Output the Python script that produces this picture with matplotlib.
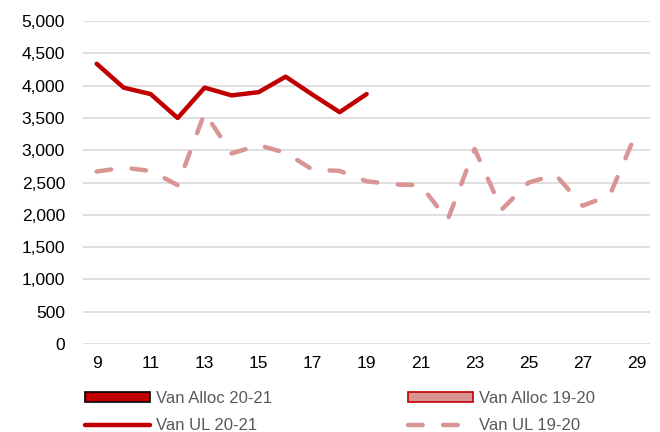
import matplotlib.pyplot as plt
from matplotlib.patches import Patch
from matplotlib.lines import Line2D

# ===============================================
# Van allocation vs UL by week
# ===============================================

weeks_2021 = [9, 10, 11, 12, 13, 14, 15, 16, 17, 18, 19]
ul_2021 = [4340, 3970, 3870, 3500, 3970, 3850, 3900, 4140, 3860, 3590, 3870]

weeks_1920 = list(range(9, 30))
ul_1920 = [2670, 2730, 2680, 2460, 3580, 2950, 3080, 2960, 2700, 2680, 2520,
           2470, 2460, 1920, 3020, 2080, 2500, 2620, 2140, 2300, 3280]

x_ticks = list(range(9, 30, 2))
y_ticks = list(range(0, 5001, 500))

red = "#C00000"
pink = "#D99594"
dash = (0, (3.3, 4.6))

plt.rcParams["font.family"] = ["Liberation Sans", "DejaVu Sans"]

fig = plt.figure(figsize=(6.6, 4.32), dpi=100)
ax = fig.add_axes([0.126, 0.204, 0.859, 0.747])

ax.plot(weeks_1920, ul_1920, color=pink, linewidth=3.2,
        linestyle=dash, dash_capstyle="round", solid_capstyle="round")
ax.plot(weeks_2021, ul_2021, color=red, linewidth=3.2,
        solid_capstyle="round", solid_joinstyle="round")

ax.set_xlim(8.5, 29.5)
ax.set_ylim(0, 5000)
ax.set_xticks(x_ticks)
ax.set_yticks(y_ticks)
ax.set_yticklabels([f"{v:,}" for v in y_ticks])
ax.tick_params(length=0, labelsize=12.5, colors="black")
ax.tick_params(axis="y", pad=13)
ax.tick_params(axis="x", pad=9)
ax.grid(axis="y", color="#D9D9D9", linewidth=1.2)
ax.set_axisbelow(True)
for s in ax.spines.values():
    s.set_visible(False)

# legend: two columns, placed separately
col1 = [
    Patch(facecolor=red, edgecolor="black", linewidth=1.2, label="Van Alloc 20-21"),
    Line2D([], [], color=red, linewidth=3.2, solid_capstyle="round", label="Van UL 20-21"),
]
col2 = [
    Patch(facecolor=pink, edgecolor=red, linewidth=1.2, label="Van Alloc 19-20"),
    Line2D([], [], color=pink, linewidth=3.2, linestyle=dash,
           dash_capstyle="round", label="Van UL 19-20"),
]
opts = dict(loc="center left", frameon=False, fontsize=12, handlelength=3.9,
            handleheight=0.55, handletextpad=0.35, labelspacing=0.75,
            borderpad=0.0, borderaxespad=0.0)
for hs, x0 in [(col1, 0.129), (col2, 0.618)]:
    leg = fig.legend(handles=hs, bbox_to_anchor=(x0, 0.046), **opts)
    for t in leg.get_texts():
        t.set_color("#595959")

plt.savefig("out.png", dpi=100)
plt.close()
